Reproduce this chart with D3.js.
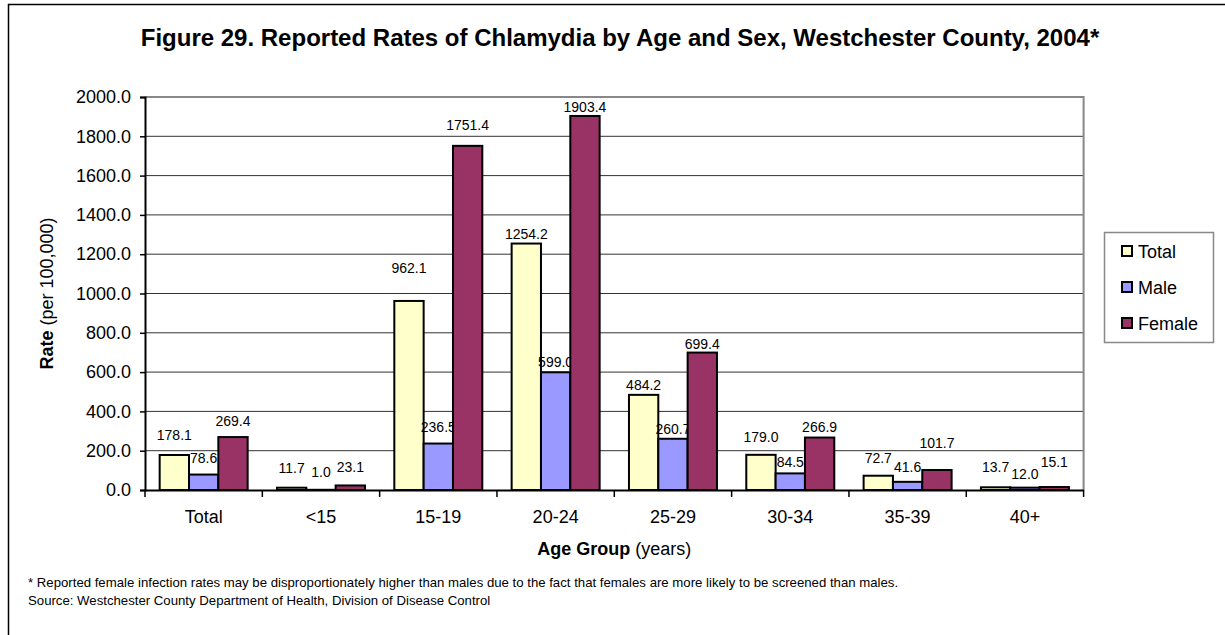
<!DOCTYPE html>
<html>
<head>
<meta charset="utf-8">
<script src="https://cdn.jsdelivr.net/npm/d3@7"></script>
<style>
  body { margin: 0; background: #fff; }
  svg text { font-family: Arial, "Liberation Sans", sans-serif; fill: #000; }
</style>
</head>
<body>
<div id="chart"></div>
<script>
// Chart data
var categories = ["Total", "<15", "15-19", "20-24", "25-29", "30-34", "35-39", "40+"];
var seriesNames = ["Total", "Male", "Female"];
var totalRates = [178.1, 11.7, 962.1, 1254.2, 484.2, 179.0, 72.7, 13.7];
var maleRates = [78.6, 1.0, 236.5, 599.0, 260.7, 84.5, 41.6, 12.0];
var femaleRates = [269.4, 23.1, 1751.4, 1903.4, 699.4, 266.9, 101.7, 15.1];
var yTicks = [0, 200, 400, 600, 800, 1000, 1200, 1400, 1600, 1800, 2000];
var colors = ["#FFFFCC", "#9999FF", "#993366"];

// how far each value label sits above its bar (px) - the original labels are not evenly placed
var labelLift = [
    [15, 15, 28, 5, 5, 13, 13, 15],
    [12, 13, 11.5, 5, 5, 6, 10, 8.6],
    [11, 13.5, 16, 4, 4, 5.7, 22, 20]
];

var svgWidth = 1225;
var svgHeight = 635;
var margin = { top: 97, right: 141.4, bottom: 145, left: 145 };
var width = svgWidth - margin.left - margin.right;
var height = svgHeight - margin.top - margin.bottom;

var svg = d3.select("#chart").append("svg")
    .attr("width", svgWidth)
    .attr("height", svgHeight);

// outer frame (runs off the right and bottom edge like the original)
svg.append("rect")
    .attr("x", 8.5).attr("y", 4.5)
    .attr("width", 1400).attr("height", 800)
    .attr("fill", "none").attr("stroke", "#000").attr("stroke-width", 1.5);

svg.append("text")
    .attr("x", 620).attr("y", 46)
    .attr("text-anchor", "middle")
    .attr("font-size", "24px").attr("font-weight", "bold")
    .text("Figure 29. Reported Rates of Chlamydia by Age and Sex, Westchester County, 2004*");

var chartGroup = svg.append("g")
    .attr("transform", `translate(${margin.left}, ${margin.top})`);

var x0 = d3.scaleBand().domain(categories).range([0, width]);
var x1 = d3.scaleBand().domain(seriesNames)
    .range([x0.bandwidth() / 8, x0.bandwidth() * 7 / 8]);
var yScale = d3.scaleLinear().domain([0, 2000]).range([height, 0]);

// gridlines
chartGroup.append("g")
    .selectAll("line")
    .data(yTicks.slice(1, -1))
    .enter()
    .append("line")
    .attr("x1", 0).attr("x2", width)
    .attr("y1", d => yScale(d)).attr("y2", d => yScale(d))
    .attr("stroke", "#333").attr("stroke-width", 1);

// plot frame top/right in grey
chartGroup.append("path")
    .attr("d", `M0,${yScale(2000)}H${width}V${height}`)
    .attr("fill", "none").attr("stroke", "#888").attr("stroke-width", 2);

var seriesData = [totalRates, maleRates, femaleRates];

// bars, then labels, series by series
seriesData.forEach(function(vals, si) {
    var name = seriesNames[si];
    chartGroup.append("g")
        .selectAll("rect")
        .data(vals)
        .enter()
        .append("rect")
        .attr("x", (d, i) => x0(categories[i]) + x1(name))
        .attr("y", d => yScale(d))
        .attr("width", x1.bandwidth())
        .attr("height", d => height - yScale(d))
        .attr("fill", colors[si])
        .attr("stroke", "#000").attr("stroke-width", 2);

    chartGroup.append("g")
        .selectAll("text")
        .data(vals)
        .enter()
        .append("text")
        .attr("x", (d, i) => x0(categories[i]) + x1(name) + x1.bandwidth() / 2)
        .attr("y", (d, i) => yScale(d) - labelLift[si][i])
        .attr("text-anchor", "middle")
        .attr("font-size", "14px")
        .text(d => d.toFixed(1));
});

// axes
var bottomAxis = d3.axisBottom(x0).tickSize(0).tickPadding(20);
var leftAxis = d3.axisLeft(yScale).tickValues(yTicks).tickSize(5).tickPadding(9)
    .tickFormat(d3.format(".1f"));

var xAxisG = chartGroup.append("g")
    .attr("transform", `translate(0, ${height})`)
    .call(bottomAxis);
xAxisG.select(".domain").attr("stroke", "#000").attr("stroke-width", 2);
xAxisG.selectAll("text").attr("font-size", "18px").attr("font-family", "Arial, 'Liberation Sans', sans-serif");

// tick marks between groups
xAxisG.append("g")
    .selectAll("line")
    .data(d3.range(categories.length + 1))
    .enter()
    .append("line")
    .attr("x1", i => i * x0.step()).attr("x2", i => i * x0.step())
    .attr("y1", 0).attr("y2", 7)
    .attr("stroke", "#000").attr("stroke-width", 1.5);

var yAxisG = chartGroup.append("g").call(leftAxis);
yAxisG.select(".domain").attr("stroke", "#000").attr("stroke-width", 2);
yAxisG.selectAll(".tick line").attr("stroke", "#000").attr("stroke-width", 1.5);
yAxisG.selectAll("text").attr("font-size", "18px").attr("font-family", "Arial, 'Liberation Sans', sans-serif");

// axis titles
var xTitle = svg.append("text")
    .attr("x", margin.left + width / 2).attr("y", 555)
    .attr("text-anchor", "middle").attr("font-size", "18px");
xTitle.append("tspan").attr("font-weight", "bold").text("Age Group");
xTitle.append("tspan").text(" (years)");

var yTitle = svg.append("text")
    .attr("transform", `translate(53, ${margin.top + height / 2}) rotate(-90)`)
    .attr("text-anchor", "middle").attr("font-size", "18px");
yTitle.append("tspan").attr("font-weight", "bold").text("Rate");
yTitle.append("tspan").text(" (per 100,000)");

// legend
var legend = svg.append("g");
legend.append("rect")
    .attr("x", 1104.5).attr("y", 232.5)
    .attr("width", 109).attr("height", 110)
    .attr("fill", "#fff").attr("stroke", "#888").attr("stroke-width", 1.5);
var legendItems = legend.selectAll("g.item")
    .data(seriesNames)
    .enter()
    .append("g")
    .attr("class", "item")
    .attr("transform", (d, i) => `translate(1122, ${251 + i * 36})`);
legendItems.append("rect")
    .attr("x", 0).attr("y", -5)
    .attr("width", 10).attr("height", 10)
    .attr("fill", (d, i) => colors[i])
    .attr("stroke", "#000").attr("stroke-width", 2);
legendItems.append("text")
    .attr("x", 16).attr("y", 6.5)
    .attr("font-size", "18px")
    .text(d => d);

// footnotes
svg.append("text")
    .attr("x", 28).attr("y", 587)
    .attr("font-size", "13.2px")
    .text("* Reported female infection rates may be disproportionately higher than males due to the fact that females are more likely to be screened than males.");
svg.append("text")
    .attr("x", 28).attr("y", 605)
    .attr("font-size", "13.2px")
    .text("Source: Westchester County Department of Health, Division of Disease Control");
</script>
</body>
</html>
